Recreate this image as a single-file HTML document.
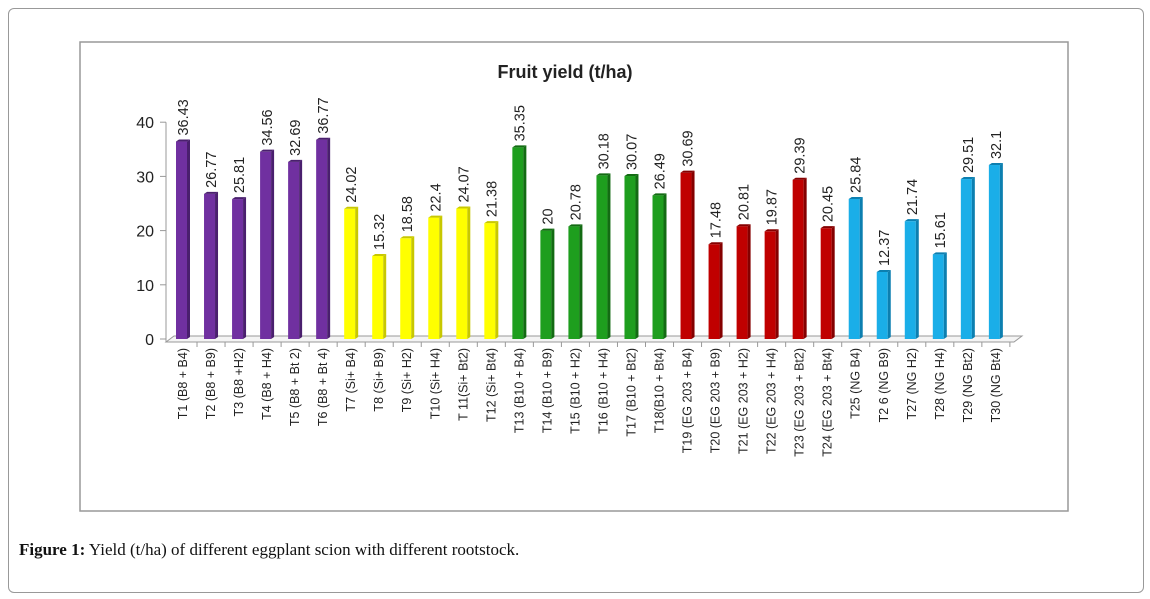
<!DOCTYPE html>
<html><head><meta charset="utf-8"><style>
body{margin:0;background:#fff;width:1150px;height:599px;overflow:hidden;position:relative;font-family:"Liberation Sans",sans-serif}
#outer{position:absolute;left:8px;top:8px;width:1134px;height:583px;border:1px solid #999;border-radius:6px}
#cap{position:absolute;left:19px;top:540px;font-family:"Liberation Serif",serif;font-size:17px;color:#111}
</style></head><body>
<div id="outer"></div>
<svg id="chart" width="1150" height="599" style="position:absolute;left:0;top:0">
<rect x="80" y="42" width="988" height="469" fill="#fff" stroke="#999" stroke-width="1.5"/>
<text x="565" y="78" text-anchor="middle" font-size="18" font-weight="bold" fill="#222">Fruit yield (t/ha)</text>
<g id="g"></g>
</svg>
<div id="cap"><b>Figure 1:</b> Yield (t/ha) of different eggplant scion with different rootstock.</div>
<script>
const categories=["T1  (B8 + B4)","T2  (B8 + B9)","T3  (B8 +H2)","T4  (B8 + H4)","T5  (B8 + Bt 2)","T6  (B8 + Bt 4)","T7  (Si+ B4)","T8  (Si+ B9)","T9  (Si+ H2)","T10  (Si+ H4)","T 11(Si+ Bt2)","T12  (Si+ Bt4)","T13 (B10 + B4)","T14 (B10 + B9)","T15 (B10 + H2)","T16  (B10 + H4)","T17  (B10 + Bt2)","T18(B10 + Bt4)","T19 (EG 203 + B4)","T20 (EG 203 + B9)","T21 (EG 203 + H2)","T22 (EG 203 + H4)","T23 (EG 203 + Bt2)","T24 (EG 203 + Bt4)","T25 (NG B4)","T2 6 (NG B9)","T27 (NG H2)","T28 (NG H4)","T29 (NG Bt2)","T30  (NG Bt4)"];
const values=[36.43,26.77,25.81,34.56,32.69,36.77,24.02,15.32,18.58,22.4,24.07,21.38,35.35,20,20.78,30.18,30.07,26.49,30.69,17.48,20.81,19.87,29.39,20.45,25.84,12.37,21.74,15.61,29.51,32.1];
const valueLabels=["36.43","26.77","25.81","34.56","32.69","36.77","24.02","15.32","18.58","22.4","24.07","21.38","35.35","20","20.78","30.18","30.07","26.49","30.69","17.48","20.81","19.87","29.39","20.45","25.84","12.37","21.74","15.61","29.51","32.1"];
const groups=[0,0,0,0,0,0,1,1,1,1,1,1,2,2,2,2,2,2,3,3,3,3,3,3,4,4,4,4,4,4];
const yTicks=[0,10,20,30,40];
const colors=[["#7030A0","#4a1f6e"],["#FFFF00","#c8c800"],["#1E9E1E","#136b13"],["#C00000","#850000"],["#1AAEE8","#0c7fb0"]];
const NS="http://www.w3.org/2000/svg",g=document.getElementById('g');
const y0=339,ppu=5.42,x0=183,step=28.03,bw=14;
const y=v=>y0-v*ppu, x=i=>x0+i*step;
function mk(t,a,txt){const e=document.createElementNS(NS,t);for(const k in a)e.setAttribute(k,a[k]);if(txt!=null)e.textContent=txt;g.appendChild(e);return e;}
let fl=mk('polygon',{points:`166,${y0+3} 174,${y0-3} 1022,${y0-3} 1014,${y0+3}`,fill:"#f4f4f4",stroke:"#999"});

let ax=mk('line',{x1:166,y1:y(40),x2:166,y2:y0+3,stroke:"#999"});

yTicks.forEach(t=>{
 let l=mk('line',{x1:160,y1:y(t),x2:166,y2:y(t),stroke:"#999"});
 
 let tx=mk('text',{x:154,y:y(t)+6,'text-anchor':'end','font-size':16,fill:'#222'},t);
 
});
values.forEach((v,i)=>{
 const c=colors[groups[i]],cx=x(i),top=y(v);
 let b=mk('rect',{x:cx-bw/2,y:top,width:bw-3,height:y0-top,fill:c[0]});
 
 let s=mk('polygon',{points:`${cx+bw/2-3},${top} ${cx+bw/2},${top-2} ${cx+bw/2},${y0-2} ${cx+bw/2-3},${y0}`,fill:c[1]});
 
 let tp=mk('polygon',{points:`${cx-bw/2},${top} ${cx-bw/2+3},${top-2} ${cx+bw/2},${top-2} ${cx+bw/2-3},${top}`,fill:c[1]});
 
 let tk=mk('line',{x1:cx+step/2,y1:y0+3,x2:cx+step/2,y2:y0+8,stroke:'#999'});
 
 let vl=mk('text',{transform:`translate(${cx+5},${top-6}) rotate(-90)`,'font-size':14.5,fill:'#222'},valueLabels[i]);
 
 let cl=mk('text',{transform:`translate(${cx+4},${y0+9}) rotate(-90)`,'text-anchor':'end','font-size':12.5,fill:'#222'},categories[i]);
 
});
</script>
</body></html>
